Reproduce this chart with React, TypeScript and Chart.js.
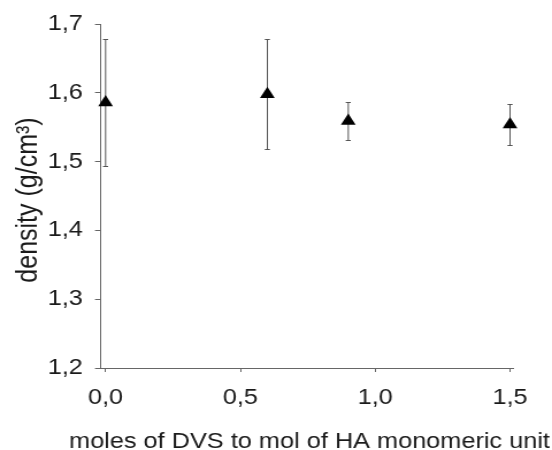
import React, { useEffect, useRef } from 'react';
import { Chart, registerables } from 'chart.js';

Chart.register(...registerables);

const DVS_RATIO = [0, 0.6, 0.9, 1.5];
const DENSITY = [1.586, 1.598, 1.559, 1.554];
const DENSITY_ERR = [0.092, 0.08, 0.028, 0.03];
const X_TICKS = [0, 0.5, 1.0, 1.5];
const Y_TICKS = [1.2, 1.3, 1.4, 1.5, 1.6, 1.7];
const X_TITLE = 'moles of DVS to mol of HA monomeric unit';
const Y_TITLE = 'density (g/cm³)';

// The reference is horizontally stretched; draw on a narrower canvas and stretch it with CSS.
const STRETCH = 1.15;
const CSS_W = 552;
const CSS_H = 450;
const W = Math.round(CSS_W / STRETCH);
const H = CSS_H;
const sx = (cssX: number) => cssX / STRETCH;

const FONT = "'Liberation Sans', Arial, sans-serif";
const TEXT_COLOR = '#1a1a1a';
const AXIS_COLOR = '#666666';

const fmt = (v: number) => Number(v).toFixed(1).replace('.', ',');

const errorBars = {
  id: 'errorBars',
  beforeDatasetsDraw(chart: any) {
    const { ctx, scales } = chart;
    const x = scales.x;
    const y = scales.y;
    ctx.save();
    ctx.strokeStyle = '#555555';
    ctx.lineWidth = 1;
    DVS_RATIO.forEach((v, i) => {
      const px = x.getPixelForValue(v);
      const top = Math.round(y.getPixelForValue(DENSITY[i] + DENSITY_ERR[i])) + 0.5;
      const bot = Math.round(y.getPixelForValue(DENSITY[i] - DENSITY_ERR[i])) + 0.5;
      ctx.beginPath();
      ctx.moveTo(px, top);
      ctx.lineTo(px, bot);
      ctx.moveTo(px - 2.2, top);
      ctx.lineTo(px + 2.2, top);
      ctx.moveTo(px - 2.2, bot);
      ctx.lineTo(px + 2.2, bot);
      ctx.stroke();
    });
    ctx.restore();
  },
};

const axisTitles = {
  id: 'axisTitles',
  afterDraw(chart: any) {
    const { ctx } = chart;
    ctx.save();
    ctx.fillStyle = TEXT_COLOR;
    ctx.textAlign = 'center';
    ctx.textBaseline = 'alphabetic';
    ctx.font = `22px ${FONT}`;
    ctx.fillText(X_TITLE, sx(309.5), 448);
    ctx.translate(sx(36.5), 200);
    ctx.rotate(-Math.PI / 2);
    ctx.font = `25px ${FONT}`;
    ctx.fillText(Y_TITLE, 0, 0);
    ctx.restore();
  },
};

export default function App() {
  const ref = useRef<HTMLCanvasElement | null>(null);

  useEffect(() => {
    if (!ref.current) return;
    const chart = new Chart(ref.current, {
      type: 'scatter',
      data: {
        datasets: [
          {
            data: DVS_RATIO.map((x, i) => ({ x, y: DENSITY[i] })),
            pointStyle: 'triangle',
            pointRadius: 7.4,
            pointHoverRadius: 7.4,
            backgroundColor: '#000000',
            borderColor: '#000000',
            borderWidth: 0,
            showLine: false,
            clip: false,
          },
        ],
      },
      options: {
        responsive: false,
        animation: false,
        layout: { padding: { top: 24, right: W - sx(513), left: 0, bottom: 0 } },
        plugins: {
          legend: { display: false },
          tooltip: { enabled: false },
        },
        scales: {
          x: {
            type: 'linear',
            min: -0.017,
            max: 1.511,
            afterBuildTicks: (s: any) => {
              s.ticks = X_TICKS.map((value) => ({ value }));
            },
            afterFit: (s: any) => {
              s.height = 82;
            },
            grid: {
              display: true,
              drawOnChartArea: false,
              drawTicks: true,
              tickLength: 4,
              color: AXIS_COLOR,
              lineWidth: 1,
            },
            border: { display: true, color: AXIS_COLOR, width: 1 },
            ticks: {
              padding: 13,
              color: TEXT_COLOR,
              font: { family: FONT, size: 22 },
              callback: (v: any) => fmt(v),
            },
            title: { display: false },
          },
          y: {
            type: 'linear',
            min: 1.2,
            max: 1.7,
            afterBuildTicks: (s: any) => {
              s.ticks = Y_TICKS.map((value) => ({ value }));
            },
            afterFit: (s: any) => {
              s.width = sx(101);
            },
            grid: {
              display: true,
              drawOnChartArea: false,
              drawTicks: true,
              tickLength: sx(6),
              color: AXIS_COLOR,
              lineWidth: 1,
            },
            border: { display: true, color: AXIS_COLOR, width: 1 },
            ticks: {
              padding: 10.5,
              color: TEXT_COLOR,
              font: { family: FONT, size: 22 },
              callback: (v: any) => fmt(v),
            },
            title: { display: false },
          },
        },
      },
      plugins: [errorBars, axisTitles],
    } as any);
    return () => chart.destroy();
  }, []);

  return (
    <div style={{ position: 'fixed', left: 0, top: 0, width: CSS_W, height: CSS_H, background: '#ffffff' }}>
      <canvas ref={ref} width={W} height={H} style={{ width: CSS_W, height: CSS_H, display: 'block' }} />
    </div>
  );
}
